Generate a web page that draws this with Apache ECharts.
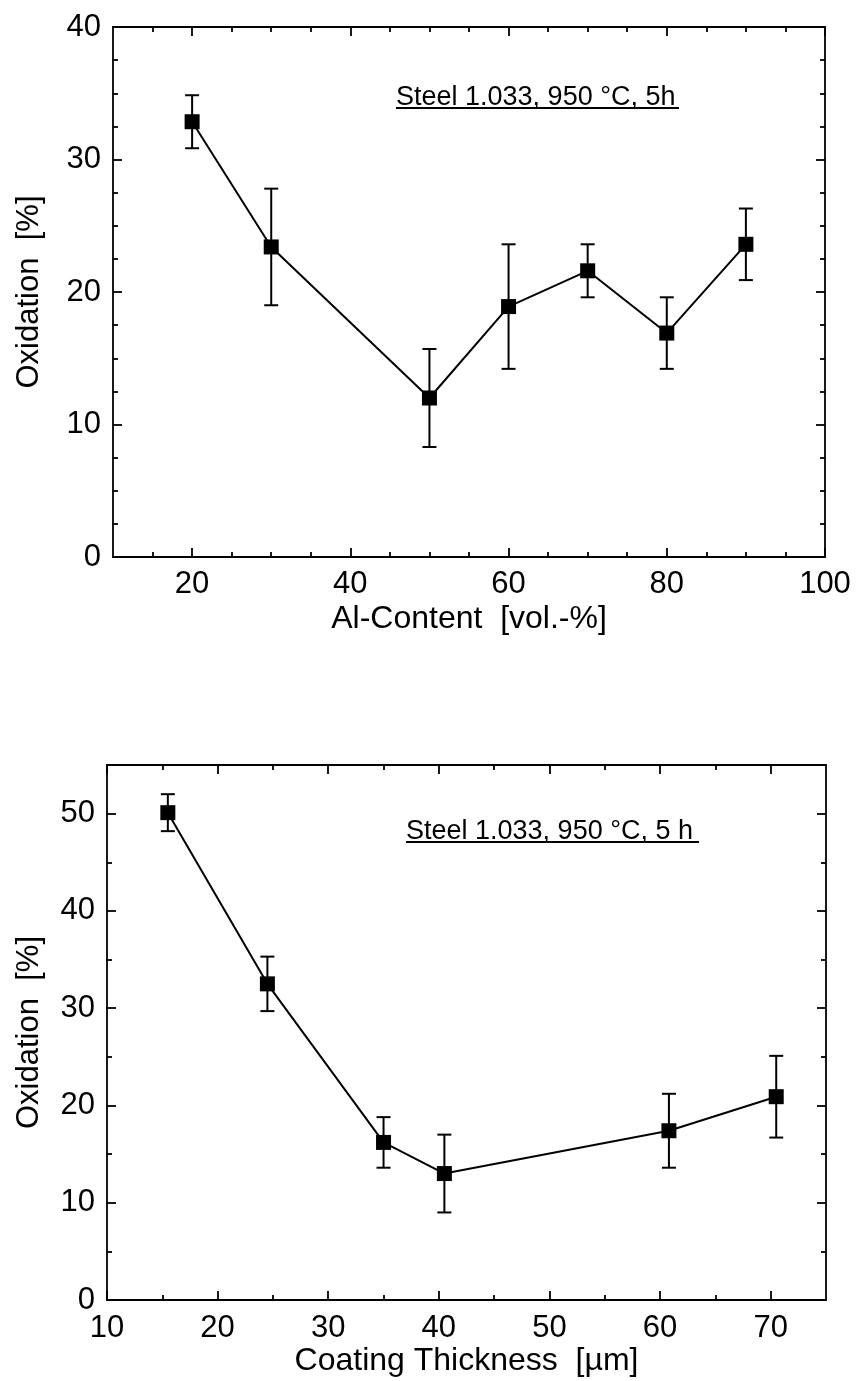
<!DOCTYPE html>
<html>
<head>
<meta charset="utf-8">
<script src="https://cdn.jsdelivr.net/npm/echarts@6/dist/echarts.min.js"></script>
<style>
html,body{margin:0;padding:0;background:#fff;}
#c{width:865px;height:1381px;}
</style>
</head>
<body>
<div id="c"></div>
<script>
// ---- Data: top panel (Al-Content) ----
const alContent = [20, 30, 50, 60, 70, 80, 90];
const oxidationAl = [32.85, 23.4, 12.0, 18.9, 21.6, 16.9, 23.6];
const errorAl = [2.0, 4.4, 3.7, 4.7, 2.0, 2.7, 2.7];

// ---- Data: bottom panel (Coating Thickness) ----
const thickness = [15.5, 24.5, 35.0, 40.5, 60.8, 70.5];
const oxidationThick = [50.1, 32.5, 16.2, 13.0, 17.4, 20.9];
const errorThick = [1.9, 2.8, 2.6, 4.0, 3.8, 4.2];

// ---- Tick labels ----
const topXMajor = [20, 40, 60, 80, 100];
const topXMinor = [15, 25, 30, 35, 45, 50, 55, 65, 70, 75, 85, 90, 95];
const topYMajor = [0, 10, 20, 30, 40];
const topYMinor = [2.5, 5, 7.5, 12.5, 15, 17.5, 22.5, 25, 27.5, 32.5, 35, 37.5];
const botXMajor = [10, 20, 30, 40, 50, 60, 70];
const botXMinor = [15, 25, 35, 45, 55, 65];
const botYMajor = [0, 10, 20, 30, 40, 50];
const botYMinor = [5, 15, 25, 35, 45];

const annotationTop = 'Steel 1.033, 950 °C, 5h';
const annotationBottom = 'Steel 1.033, 950 °C, 5 h';

const FONT = '"Liberation Sans", Arial, sans-serif';
const lineStyle = { color: '#000', width: 1.8 };

function xAxes(gridIndex, min, max, major, minor, name, gap, margin) {
  return [
    { gridIndex, type: 'value', position: 'bottom', min, max,
      name, nameLocation: 'middle', nameGap: gap, nameMoveOverlap: false,
      nameTextStyle: { fontFamily: FONT, fontSize: 32, color: '#000' },
      axisLine: { show: true, onZero: false, lineStyle },
      axisTick: { show: true, inside: true, length: 9, customValues: major, lineStyle },
      axisLabel: { show: true, customValues: major, margin, fontFamily: FONT, fontSize: 31, color: '#000' },
      splitLine: { show: false } },
    { gridIndex, type: 'value', position: 'bottom', min, max,
      axisLine: { show: false, onZero: false },
      axisTick: { show: true, inside: true, length: 5, customValues: minor, lineStyle },
      axisLabel: { show: false }, splitLine: { show: false } },
    { gridIndex, type: 'value', position: 'top', min, max,
      axisLine: { show: true, onZero: false, lineStyle },
      axisTick: { show: true, inside: true, length: 9, customValues: major, lineStyle },
      axisLabel: { show: false }, splitLine: { show: false } },
    { gridIndex, type: 'value', position: 'top', min, max,
      axisLine: { show: false, onZero: false },
      axisTick: { show: true, inside: true, length: 5, customValues: minor, lineStyle },
      axisLabel: { show: false }, splitLine: { show: false } }
  ];
}
function yAxes(gridIndex, min, max, major, minor, name, gap) {
  return [
    { gridIndex, type: 'value', position: 'left', min, max,
      name, nameLocation: 'middle', nameGap: gap, nameMoveOverlap: false,
      nameTextStyle: { fontFamily: FONT, fontSize: 31, color: '#000' },
      axisLine: { show: true, onZero: false, lineStyle },
      axisTick: { show: true, inside: true, length: 9, customValues: major, lineStyle },
      axisLabel: { show: true, customValues: major, margin: 12, fontFamily: FONT, fontSize: 31, color: '#000' },
      splitLine: { show: false } },
    { gridIndex, type: 'value', position: 'left', min, max,
      axisLine: { show: false, onZero: false },
      axisTick: { show: true, inside: true, length: 5, customValues: minor, lineStyle },
      axisLabel: { show: false }, splitLine: { show: false } },
    { gridIndex, type: 'value', position: 'right', min, max,
      axisLine: { show: true, onZero: false, lineStyle },
      axisTick: { show: true, inside: true, length: 9, customValues: major, lineStyle },
      axisLabel: { show: false }, splitLine: { show: false } },
    { gridIndex, type: 'value', position: 'right', min, max,
      axisLine: { show: false, onZero: false },
      axisTick: { show: true, inside: true, length: 5, customValues: minor, lineStyle },
      axisLabel: { show: false }, splitLine: { show: false } }
  ];
}

function errorRender(params, api) {
  const x = api.value(0), lo = api.value(1), hi = api.value(2);
  const pTop = api.coord([x, hi]);
  const pBot = api.coord([x, lo]);
  const w = 7;
  const st = { stroke: '#000', lineWidth: 2 };
  return {
    type: 'group',
    children: [
      { type: 'line', shape: { x1: pTop[0], y1: pTop[1], x2: pBot[0], y2: pBot[1] }, style: st },
      { type: 'line', shape: { x1: pTop[0] - w, y1: pTop[1], x2: pTop[0] + w, y2: pTop[1] }, style: st },
      { type: 'line', shape: { x1: pBot[0] - w, y1: pBot[1], x2: pBot[0] + w, y2: pBot[1] }, style: st }
    ]
  };
}

const lineTop = alContent.map((x, i) => [x, oxidationAl[i]]);
const errTop = alContent.map((x, i) => [x, oxidationAl[i] - errorAl[i], oxidationAl[i] + errorAl[i]]);
const lineBot = thickness.map((x, i) => [x, oxidationThick[i]]);
const errBot = thickness.map((x, i) => [x, oxidationThick[i] - errorThick[i], oxidationThick[i] + errorThick[i]]);

const chart = echarts.init(document.getElementById('c'), null, { renderer: 'canvas' });
chart.setOption({
  backgroundColor: '#fff',
  animation: false,
  grid: [
    { left: 113, right: 40, top: 27, height: 530 },
    { left: 107, right: 39, top: 765, height: 535 }
  ],
  xAxis: [].concat(
    xAxes(0, 10, 100, topXMajor, topXMinor, 'Al-Content  [vol.-%]', 46, 12),
    xAxes(1, 10, 75, botXMajor, botXMinor, 'Coating Thickness  [µm]', 45, 13)
  ),
  yAxis: [].concat(
    yAxes(0, 0, 40, topYMajor, topYMinor, 'Oxidation  [%]', 68),
    yAxes(1, 0, 55, botYMajor, botYMinor, 'Oxidation  [%]', 62)
  ),
  graphic: [
    { type: 'text', left: 396, top: 84, style: { text: annotationTop, font: '27px ' + FONT, fill: '#000' } },
    { type: 'line', shape: { x1: 396, y1: 108, x2: 679, y2: 108 }, style: { stroke: '#000', lineWidth: 2 } },
    { type: 'text', left: 406, top: 818, style: { text: annotationBottom, font: '27px ' + FONT, fill: '#000' } },
    { type: 'line', shape: { x1: 406, y1: 842, x2: 699, y2: 842 }, style: { stroke: '#000', lineWidth: 2 } }
  ],
  series: [
    { type: 'custom', xAxisIndex: 0, yAxisIndex: 0, renderItem: errorRender, data: errTop, z: 2 },
    { type: 'line', xAxisIndex: 0, yAxisIndex: 0, data: lineTop, symbol: 'rect', symbolSize: 15,
      itemStyle: { color: '#000' }, lineStyle: { color: '#000', width: 2 }, z: 3 },
    { type: 'custom', xAxisIndex: 4, yAxisIndex: 4, renderItem: errorRender, data: errBot, z: 2 },
    { type: 'line', xAxisIndex: 4, yAxisIndex: 4, data: lineBot, symbol: 'rect', symbolSize: 15,
      itemStyle: { color: '#000' }, lineStyle: { color: '#000', width: 2 }, z: 3 }
  ]
});
</script>
</body>
</html>
